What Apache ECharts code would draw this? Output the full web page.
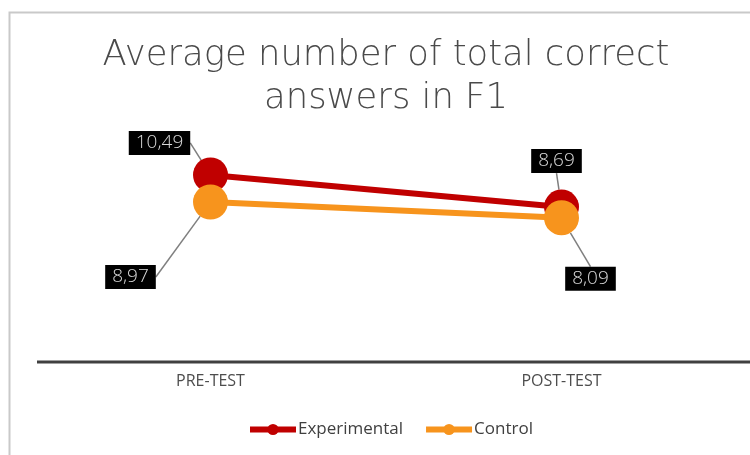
<!DOCTYPE html>
<html><head><meta charset="utf-8">
<script src="https://cdn.jsdelivr.net/npm/echarts@6/dist/echarts.min.js"></script>
<style>html,body{margin:0;padding:0;background:#fff}#c{width:750px;height:455px}</style>
</head><body><div id="c"></div>
<script>
var categories = ['PRE-TEST', 'POST-TEST'];
var experimental = [10.49, 8.69];
var control = [8.97, 8.09];
var titleText = 'Average number of total correct\nanswers in F1';

var expOffsets = [[-51, -32], [-5, -46]];
var ctrlOffsets = [[-80, 75], [29, 61]];

function fmt(p) { return String(p.value.toFixed(2)).replace('.', ','); }
function labelCfg() {
  return {
    show: true, position: 'inside', formatter: fmt,
    backgroundColor: '#000', color: '#d9d9d9',
    fontFamily: 'Open Sans', fontWeight: 300, fontSize: 19,
    padding: [3, 7, 2, 7]
  };
}

var chart = echarts.init(document.getElementById('c'), null, {renderer: 'canvas'});
chart.setOption({
  animation: false,
  backgroundColor: '#fff',
  title: {
    text: titleText, left: 386, textAlign: 'center', top: 34, padding: 0,
    textStyle: {fontFamily: 'DejaVu Sans', fontWeight: 200, fontSize: 35.4, color: '#4a4a4a', lineHeight: 43}
  },
  graphic: [{
    type: 'rect', shape: {x: 9.5, y: 12.5, width: 800, height: 500},
    style: {fill: null, stroke: '#c9c9c9', lineWidth: 2}, silent: true, z: 100
  }, {
    type: 'line', shape: {x1: 37, y1: 362, x2: 750, y2: 362},
    style: {stroke: '#404040', lineWidth: 3}, silent: true, z: 0
  }],
  grid: {left: 35, right: 13, top: 148, bottom: 93},
  xAxis: {
    type: 'category', data: categories, boundaryGap: true,
    axisLine: {show: false}, axisTick: {show: false},
    axisLabel: {color: '#4d4d4d', fontFamily: 'Open Sans', fontSize: 16, margin: 11}
  },
  yAxis: {type: 'value', min: 0, max: 12, show: false, splitLine: {show: false}},
  legend: {
    bottom: 12, left: 242, itemWidth: 46, itemHeight: 14, itemGap: 20,
    lineStyle: {width: 6},
    textStyle: {color: '#404040', fontFamily: 'Open Sans', fontSize: 17, padding: [0, 0, 0, -3]},
    data: ['Experimental', 'Control']
  },
  series: [{
    name: 'Experimental', type: 'line', data: experimental,
    color: '#c00000', symbol: 'circle', symbolSize: 35,
    lineStyle: {width: 6, color: '#c00000'},
    itemStyle: {color: '#c00000'},
    label: labelCfg(),
    labelLine: {show: true, lineStyle: {color: '#7f7f7f', width: 1.5}},
    labelLayout: function (p) { var o = expOffsets[p.dataIndex]; return {dx: o[0], dy: o[1]}; },
    emphasis: {disabled: true}, z: 2
  }, {
    name: 'Control', type: 'line', data: control,
    color: '#f7941d', symbol: 'circle', symbolSize: 35,
    lineStyle: {width: 6, color: '#f7941d'},
    itemStyle: {color: '#f7941d'},
    label: labelCfg(),
    labelLine: {show: true, lineStyle: {color: '#7f7f7f', width: 1.5}},
    labelLayout: function (p) { var o = ctrlOffsets[p.dataIndex]; return {dx: o[0], dy: o[1]}; },
    emphasis: {disabled: true}, z: 3
  }]
});
</script></body></html>
